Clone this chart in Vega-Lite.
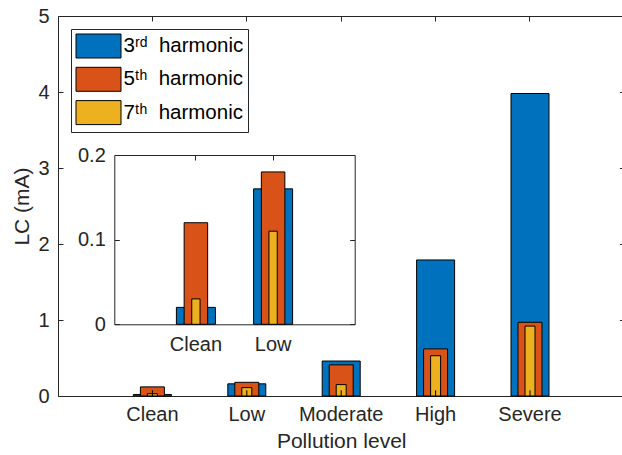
{
  "$schema": "https://vega.github.io/schema/vega-lite/v6.json",
  "width": 564,
  "height": 380,
  "autosize": {"type": "none"},
  "padding": {"left": 58, "top": 16, "right": 0, "bottom": 59},
  "datasets": {
    "lc": [
      {"level": "Clean", "harmonic": "3rd", "value": 0.02},
      {"level": "Low", "harmonic": "3rd", "value": 0.16},
      {"level": "Moderate", "harmonic": "3rd", "value": 0.46},
      {"level": "High", "harmonic": "3rd", "value": 1.79},
      {"level": "Severe", "harmonic": "3rd", "value": 3.98},
      {"level": "Clean", "harmonic": "5th", "value": 0.12},
      {"level": "Low", "harmonic": "5th", "value": 0.18},
      {"level": "Moderate", "harmonic": "5th", "value": 0.41},
      {"level": "High", "harmonic": "5th", "value": 0.62},
      {"level": "Severe", "harmonic": "5th", "value": 0.97},
      {"level": "Clean", "harmonic": "7th", "value": 0.03},
      {"level": "Low", "harmonic": "7th", "value": 0.11},
      {"level": "Moderate", "harmonic": "7th", "value": 0.15},
      {"level": "High", "harmonic": "7th", "value": 0.53},
      {"level": "Severe", "harmonic": "7th", "value": 0.92}
    ],
    "marks": [
      {"level": "Clean", "value": 0.075},
      {"level": "Low", "value": 0.075},
      {"level": "Moderate", "value": 0.075},
      {"level": "High", "value": 0.075},
      {"level": "Severe", "value": 0.075}
    ]
  },
  "layer": [
    {
      "layer": [
        {
          "data": {"name": "lc"},
          "transform": [{"filter": "datum.harmonic == '3rd'"}],
          "mark": {"type": "bar", "width": 38, "stroke": "#000", "strokeWidth": 1},
          "encoding": {
            "x": {"field": "level", "type": "nominal",
              "scale": {"domain": ["Clean", "Low", "Moderate", "High", "Severe"], "range": [0, 566.4], "paddingInner": 0, "paddingOuter": 0.5},
              "axis": {"orient": "bottom", "title": "Pollution level", "labelAngle": 0, "labelPadding": 13, "titlePadding": 6}},
            "y": {"field": "value", "type": "quantitative",
              "scale": {"domain": [0, 5], "nice": false},
              "axis": {"orient": "left", "values": [0, 1, 2, 3, 4, 5], "title": "LC (mA)", "labelPadding": 14, "titlePadding": 5}},
            "color": {"field": "harmonic", "type": "nominal",
              "scale": {"domain": ["3rd", "5th", "7th"], "range": ["#0072BD", "#D95319", "#EDB120"]},
              "legend": {"title": null, "orient": "none", "legendX": 13, "legendY": 13,
                "symbolType": "M-1,-1L2.75,-1L2.75,1L-1,1Z", "symbolSize": 576,
                "symbolStrokeColor": "#000", "symbolStrokeWidth": 1, "symbolOpacity": 1,
                "labelFontSize": 20.5, "labelColor": "#000", "labelOffset": 23, "labelFont": "Liberation Sans",
                "strokeColor": "#262626", "fillColor": "#fff", "padding": 4.5, "rowPadding": 4.3,
                "labelExpr": "datum.label == '3rd' ? '3ʳᵈ\u00a0 harmonic' : datum.label == '5th' ? '5ᵗʰ\u00a0 harmonic' : '7ᵗʰ\u00a0 harmonic'"}}
          }
        },
        {
          "data": {"name": "lc"},
          "transform": [{"filter": "datum.harmonic == '5th'"}],
          "mark": {"type": "bar", "width": 24, "stroke": "#000", "strokeWidth": 1},
          "encoding": {
            "x": {"field": "level", "type": "nominal", "scale": {"domain": ["Clean", "Low", "Moderate", "High", "Severe"], "range": [0, 566.4], "paddingInner": 0, "paddingOuter": 0.5}, "axis": null},
            "y": {"field": "value", "type": "quantitative", "scale": {"domain": [0, 5], "nice": false}, "axis": null},
            "color": {"field": "harmonic", "type": "nominal", "scale": {"domain": ["3rd", "5th", "7th"], "range": ["#0072BD", "#D95319", "#EDB120"]}}
          }
        },
        {
          "data": {"name": "lc"},
          "transform": [{"filter": "datum.harmonic == '7th'"}],
          "mark": {"type": "bar", "width": 10, "stroke": "#000", "strokeWidth": 1},
          "encoding": {
            "x": {"field": "level", "type": "nominal", "scale": {"domain": ["Clean", "Low", "Moderate", "High", "Severe"], "range": [0, 566.4], "paddingInner": 0, "paddingOuter": 0.5}, "axis": null},
            "y": {"field": "value", "type": "quantitative", "scale": {"domain": [0, 5], "nice": false}, "axis": null},
            "color": {"field": "harmonic", "type": "nominal", "scale": {"domain": ["3rd", "5th", "7th"], "range": ["#0072BD", "#D95319", "#EDB120"]}}
          }
        },
        {
          "data": {"name": "marks"},
          "mark": {"type": "rule", "color": "#000", "strokeWidth": 1},
          "encoding": {
            "x": {"field": "level", "type": "nominal", "scale": {"domain": ["Clean", "Low", "Moderate", "High", "Severe"], "range": [0, 566.4], "paddingInner": 0, "paddingOuter": 0.5},
              "axis": {"orient": "top", "labels": false, "title": null}},
            "y": {"field": "value", "type": "quantitative", "scale": {"domain": [0, 5], "nice": false},
              "axis": {"orient": "right", "labels": false, "title": null, "values": [0, 1, 2, 3, 4, 5], "offset": 2.4}},
            "y2": {"datum": 0}
          }
        }
      ],
      "resolve": {"axis": {"x": "independent", "y": "independent"}}
    },
    {
      "layer": [
        {
          "data": {"name": "lc"},
          "transform": [{"filter": "datum.harmonic == '3rd' && (datum.level == 'Clean' || datum.level == 'Low')"}],
          "mark": {"type": "bar", "width": 39, "stroke": "#000", "strokeWidth": 1},
          "encoding": {
            "x": {"field": "level", "type": "nominal",
              "scale": {"domain": ["Clean", "Low"], "range": [56.3, 296.7], "paddingInner": 0, "paddingOuter": 0.557},
              "axis": {"orient": "bottom", "offset": -71.7, "title": null, "labelAngle": 0, "labelPadding": 15}},
            "y": {"field": "value", "type": "quantitative",
              "scale": {"domain": [0, 0.2], "nice": false, "zero": true, "range": [308.3, 139]},
              "axis": {"orient": "left", "offset": -56.3, "values": [0, 0.1, 0.2], "format": "~f", "title": null, "labelPadding": 14}},
            "color": {"field": "harmonic", "type": "nominal", "scale": {"domain": ["3rd", "5th", "7th"], "range": ["#0072BD", "#D95319", "#EDB120"]}}
          }
        },
        {
          "data": {"name": "lc"},
          "transform": [{"filter": "datum.harmonic == '5th' && (datum.level == 'Clean' || datum.level == 'Low')"}],
          "mark": {"type": "bar", "width": 23.5, "stroke": "#000", "strokeWidth": 1},
          "encoding": {
            "x": {"field": "level", "type": "nominal",
              "scale": {"domain": ["Clean", "Low"], "range": [56.3, 296.7], "paddingInner": 0, "paddingOuter": 0.557},
              "axis": {"orient": "top", "offset": -139, "labels": false, "title": null}},
            "y": {"field": "value", "type": "quantitative",
              "scale": {"domain": [0, 0.2], "nice": false, "zero": true, "range": [308.3, 139]},
              "axis": {"orient": "right", "offset": -267.3, "values": [0, 0.1, 0.2], "labels": false, "title": null}},
            "color": {"field": "harmonic", "type": "nominal", "scale": {"domain": ["3rd", "5th", "7th"], "range": ["#0072BD", "#D95319", "#EDB120"]}}
          }
        },
        {
          "data": {"name": "lc"},
          "transform": [{"filter": "datum.harmonic == '7th' && (datum.level == 'Clean' || datum.level == 'Low')"}],
          "mark": {"type": "bar", "width": 8.3, "stroke": "#000", "strokeWidth": 1},
          "encoding": {
            "x": {"field": "level", "type": "nominal",
              "scale": {"domain": ["Clean", "Low"], "range": [56.3, 296.7], "paddingInner": 0, "paddingOuter": 0.557}, "axis": null},
            "y": {"field": "value", "type": "quantitative",
              "scale": {"domain": [0, 0.2], "nice": false, "zero": true, "range": [308.3, 139]}, "axis": null},
            "color": {"field": "harmonic", "type": "nominal", "scale": {"domain": ["3rd", "5th", "7th"], "range": ["#0072BD", "#D95319", "#EDB120"]}}
          }
        }
      ],
      "resolve": {"axis": {"x": "independent", "y": "independent"}}
    }
  ],
  "resolve": {"scale": {"x": "independent", "y": "independent"}},
  "config": {
    "font": "Liberation Sans",
    "view": {"stroke": null},
    "axis": {
      "domainColor": "#262626", "tickColor": "#262626", "labelColor": "#262626", "titleColor": "#262626",
      "labelFontSize": 20, "titleFontSize": 21, "titleFontWeight": "normal", "labelFont": "Liberation Sans", "titleFont": "Liberation Sans",
      "grid": false, "tickSize": -5, "domainWidth": 1, "tickWidth": 1
    }
  }
}
